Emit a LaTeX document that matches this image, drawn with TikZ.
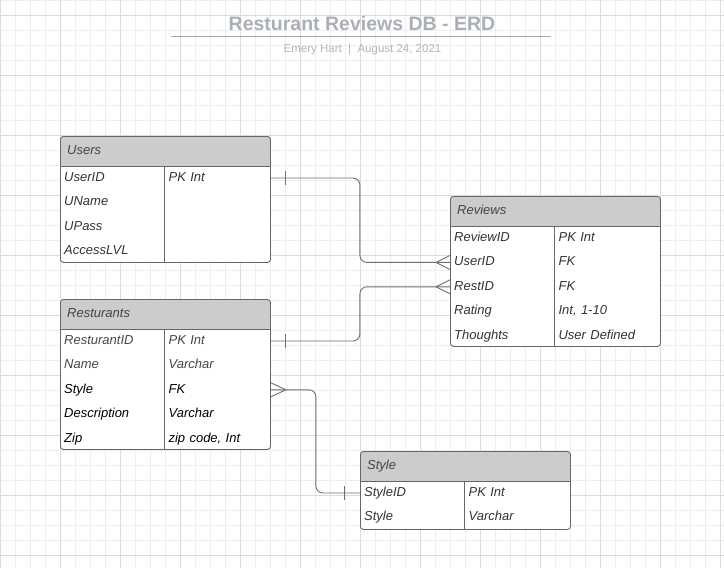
\documentclass[tikz,border=0pt]{standalone}
\usepackage{fontspec}
\setmainfont{Liberation Sans}
\usepackage{tikz}
\usetikzlibrary{
  positioning,
  calc,
  decorations.markings
}
\definecolor{GridMinor}{HTML}{EEEEEE}
\definecolor{GridMajor}{HTML}{DCDCDC}
\definecolor{HdrGray}{HTML}{CCCCCC}
\definecolor{EdgeGray}{HTML}{666666}
\definecolor{LinkGray}{HTML}{6E6E6E}
\definecolor{TitleGray}{HTML}{A9AEB7}
\definecolor{SubGray}{HTML}{B3B6BC}
\definecolor{RuleGray}{HTML}{A0A5AF}
\definecolor{HdrText}{HTML}{444444}
\definecolor{AttrText}{HTML}{333333}
\definecolor{SoftText}{HTML}{464646}
\tikzset{
  % Entity table: gray header band and column divider
  entity/.style={
    rectangle, rounded corners=3pt,
    draw=EdgeGray, fill=white, line width=0.9pt,
    minimum width=210pt, minimum height=#1,
    inner sep=0pt, anchor=north west,
    path picture={
      \fill[HdrGray] (path picture bounding box.north west)
        rectangle ([yshift=-30pt]path picture bounding box.north east);
      \draw[EdgeGray, line width=0.9pt]
        ([yshift=-30pt]path picture bounding box.north west)
        -- ([yshift=-30pt]path picture bounding box.north east);
      \draw[EdgeGray, line width=0.9pt]
        ([xshift=104pt,yshift=-30pt]path picture bounding box.north west)
        -- ([xshift=104pt]path picture bounding box.south west);
    }
  },
  % Entity name in header
  entname/.style={
    anchor=west, inner sep=0pt, text=HdrText,
    text height=10pt, text depth=3pt,
    font=\fontsize{13}{15}\selectfont\itshape
  },
  % Attribute cell: one row of 24pt
  attr/.style={
    text width=96pt, minimum height=24pt, inner sep=0pt,
    text height=10pt, text depth=3pt, align=left, text=#1,
    font=\fontsize{13}{15}\selectfont\itshape
  },
  attr/.default=AttrText,
  % Relationship line
  rel/.style={draw=LinkGray, line width=0.9pt, rounded corners=7pt},
  % Cardinality marks
  one start/.style={postaction={decorate, decoration={markings,
    mark=at position 15pt with {\draw[LinkGray, line width=0.9pt, sharp corners] (0pt,-7pt) -- (0pt,7pt);}}}},
  one end/.style={postaction={decorate, decoration={markings,
    mark=at position -16pt with {\draw[LinkGray, line width=0.9pt, sharp corners] (0pt,-7pt) -- (0pt,7pt);}}}},
  many start/.style={postaction={decorate, decoration={markings,
    mark=at position 15pt with {\draw[LinkGray, line width=0.9pt, sharp corners] (0pt,0pt) -- (-15pt,7pt) (0pt,0pt) -- (-15pt,-7pt);}}}},
  many end/.style={postaction={decorate, decoration={markings,
    mark=at position -14pt with {\draw[LinkGray, line width=0.9pt, sharp corners] (0pt,0pt) -- (14pt,7pt) (0pt,0pt) -- (14pt,-7pt);}}}},
  % Page furniture
  gridminor/.style={draw=GridMinor, line width=0.9pt, step=15pt},
  gridmajor/.style={draw=GridMajor, line width=0.9pt},
  title/.style={inner sep=0pt, text=TitleGray, font=\fontsize{19.5}{22}\selectfont\bfseries},
  byline/.style={inner sep=0pt, text=SubGray, font=\fontsize{11.5}{13}\selectfont},
  rule/.style={draw=RuleGray, line width=1pt}
}

\begin{document}
\begin{tikzpicture}[x=1pt, y=-1pt]
  \useasboundingbox (0,0) rectangle (724,568);

  % grid paper
  \draw[gridminor] (0,568) grid (724,0);
  \foreach \gx in {0,60,...,720} \draw[gridmajor] (\gx,0) -- (\gx,568);
  \foreach \gy in {15,75,...,555} \draw[gridmajor] (0,\gy) -- (724,\gy);

  % title block
  \node[title, anchor=base] (title) at (362,30) {Resturant Reviews DB - ERD};
  \draw[rule] (171,36) -- (551,36);
  \node[byline, anchor=base] (byline) at (362.5,52.5) {Emery Hart~~|~~August 24, 2021};

  % Users
  \node[entity=126pt] (users) at (60,136) {};
  \node[entname] (users-t) at ([xshift=7pt,yshift=-15pt]users.north west) {Users};
  \node[attr, anchor=west] (users-f1) at ([xshift=4pt,yshift=-42pt]users.north west) {UserID};
  \node[attr, below=0pt of users-f1] (users-f2) {UName};
  \node[attr, below=0pt of users-f2] (users-f3) {UPass};
  \node[attr, below=0pt of users-f3] (users-f4) {AccessLVL};
  \node[attr, right=8pt of users-f1] (users-v1) {PK Int};

  % Reviews
  \node[entity=150pt] (reviews) at (450,196) {};
  \node[entname] (reviews-t) at ([xshift=7pt,yshift=-15pt]reviews.north west) {Reviews};
  \node[attr, anchor=west] (reviews-f1) at ([xshift=4pt,yshift=-42pt]reviews.north west) {ReviewID};
  \node[attr, below=0pt of reviews-f1] (reviews-f2) {UserID};
  \node[attr, below=0pt of reviews-f2] (reviews-f3) {RestID};
  \node[attr, below=0pt of reviews-f3] (reviews-f4) {Rating};
  \node[attr, below=0pt of reviews-f4] (reviews-f5) {Thoughts};
  \node[attr, right=8pt of reviews-f1] (reviews-v1) {PK Int};
  \node[attr, right=8pt of reviews-f2] (reviews-v2) {FK};
  \node[attr, right=8pt of reviews-f3] (reviews-v3) {FK};
  \node[attr, right=8pt of reviews-f4] (reviews-v4) {Int, 1-10};
  \node[attr, right=8pt of reviews-f5] (reviews-v5) {User Defined};

  % Resturants
  \node[entity=150pt] (rest) at (60,299) {};
  \node[entname] (rest-t) at ([xshift=7pt,yshift=-15pt]rest.north west) {Resturants};
  \node[attr=SoftText, anchor=west] (rest-f1) at ([xshift=4pt,yshift=-42pt]rest.north west) {ResturantID};
  \node[attr=SoftText, below=0pt of rest-f1] (rest-f2) {Name};
  \node[attr=black, below=0pt of rest-f2] (rest-f3) {Style};
  \node[attr=black, below=0pt of rest-f3] (rest-f4) {Description};
  \node[attr=black, below=0pt of rest-f4] (rest-f5) {Zip};
  \node[attr=SoftText, right=8pt of rest-f1] (rest-v1) {PK Int};
  \node[attr=SoftText, right=8pt of rest-f2] (rest-v2) {Varchar};
  \node[attr=black, right=8pt of rest-f3] (rest-v3) {FK};
  \node[attr=black, right=8pt of rest-f4] (rest-v4) {Varchar};
  \node[attr=black, right=8pt of rest-f5] (rest-v5) {zip code, Int};

  % Style
  \node[entity=78pt] (style) at (360,451) {};
  \node[entname] (style-t) at ([xshift=7pt,yshift=-15pt]style.north west) {Style};
  \node[attr, anchor=west] (style-f1) at ([xshift=4pt,yshift=-42pt]style.north west) {StyleID};
  \node[attr, below=0pt of style-f1] (style-f2) {Style};
  \node[attr, right=8pt of style-f1] (style-v1) {PK Int};
  \node[attr, right=8pt of style-f2] (style-v2) {Varchar};

  % relationships
  \draw[rel, one start, many end] (users-f1 -| users.east) -- ++(89,0) |- (reviews-f2 -| reviews.west);
  \draw[rel, one start, many end] (rest-f1 -| rest.east) -- ++(89,0) |- (reviews-f3 -| reviews.west);
  \draw[rel, many start, one end] (rest-f3 -| rest.east) -- ++(45,0) |- (style-f1 -| style.west);
\end{tikzpicture}
\end{document}
